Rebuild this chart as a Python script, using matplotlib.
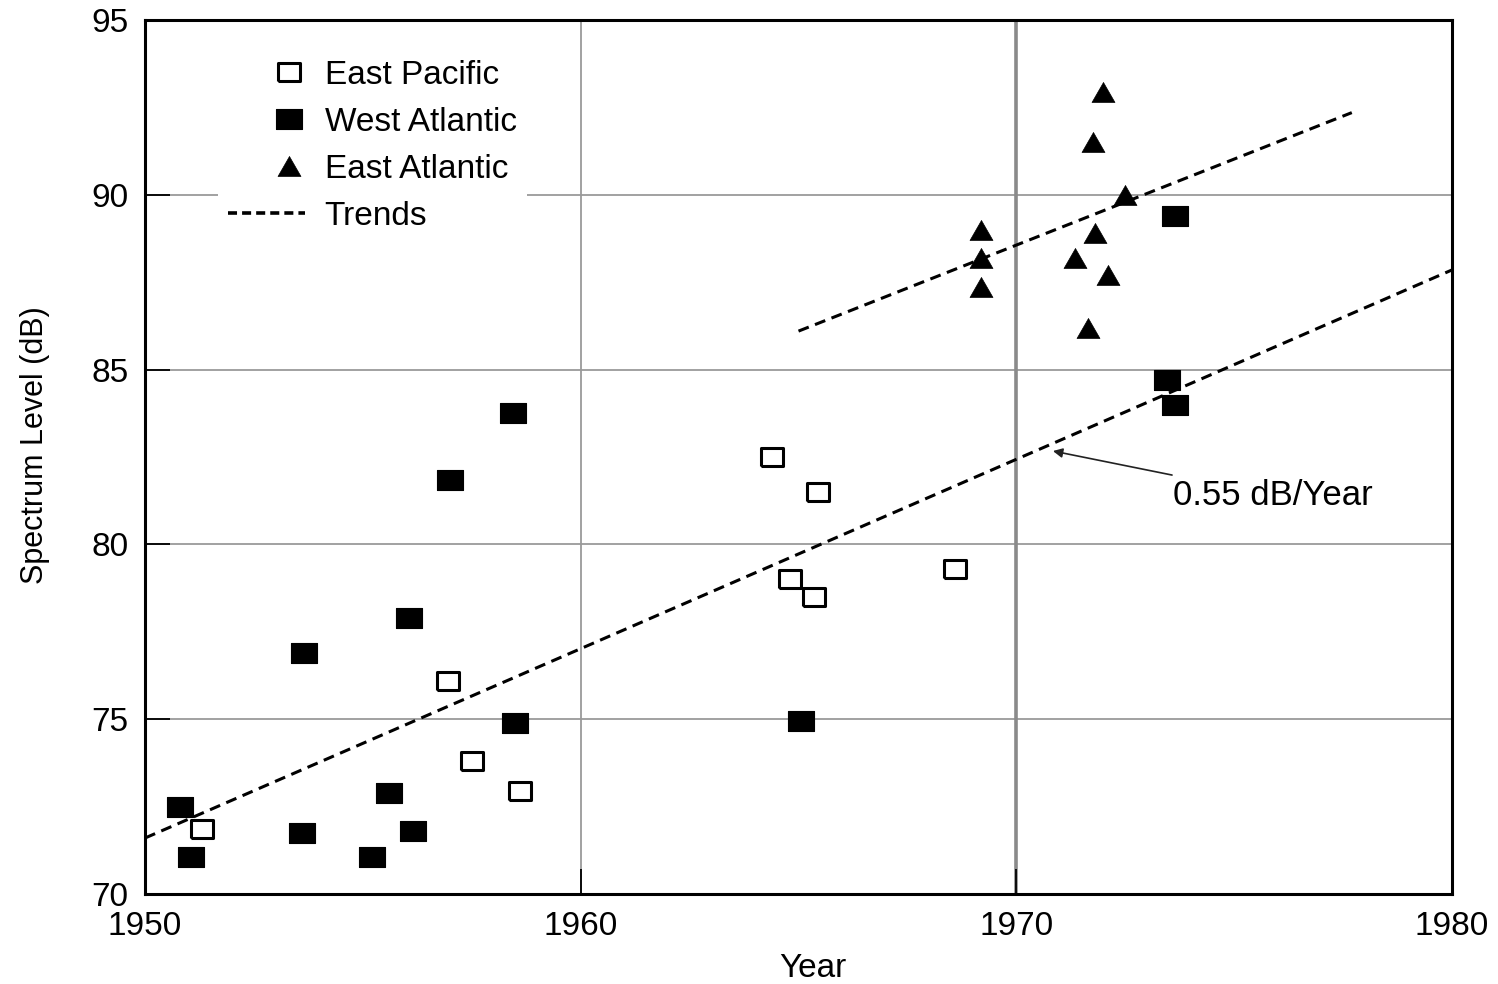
import matplotlib
matplotlib.use('Agg')
import matplotlib.pyplot as plt
from matplotlib.lines import Line2D
from matplotlib.legend_handler import HandlerLine2D

plt.rcParams['font.family'] = ['Liberation Sans', 'DejaVu Sans']

# East Pacific (open squares)
ep_year = [1951.3, 1956.95, 1957.5, 1958.6, 1964.4, 1965.45, 1964.8, 1965.35, 1968.6]
ep_db = [71.85, 76.1, 73.8, 72.95, 82.5, 81.5, 79.0, 78.5, 79.3]

# West Atlantic (filled squares)
wa_year = [1950.8, 1951.05, 1953.65, 1953.6, 1955.2, 1955.6, 1956.05, 1956.15,
           1957.0, 1958.45, 1958.5, 1965.05, 1973.65, 1973.45, 1973.65]
wa_db = [72.5, 71.05, 76.9, 71.75, 71.05, 72.9, 77.9, 71.8,
         81.85, 83.75, 74.9, 74.95, 89.4, 84.7, 84.0]

# East Atlantic (triangles)
ea_year = [1972.0, 1971.75, 1972.5, 1969.2, 1969.2, 1969.2, 1971.8, 1971.35, 1972.1, 1971.65]
ea_db = [92.95, 91.5, 90.0, 89.0, 88.2, 87.35, 88.9, 88.2, 87.7, 86.2]

# trend lines
trend1_year = [1950, 1980]
trend1_db = [71.6, 87.85]
trend2_year = [1965, 1977.7]
trend2_db = [86.1, 92.35]

rect = [(-0.6, -0.49), (0.6, -0.49), (0.6, 0.49), (-0.6, 0.49), (-0.6, -0.49)]
tri = [(0, 1), (-1.15, -1), (1.15, -1), (0, 1)]


class MarkerRight(HandlerLine2D):
    # marker sits at the middle of xdata when numpoints=1, so shift the span right
    def get_xdata(self, legend, xdescent, ydescent, width, height, fontsize):
        return [-xdescent + 0.6 * width, -xdescent + width], [-xdescent + 0.8 * width]


fig = plt.figure(figsize=(14.98, 9.84), dpi=100)
ax = fig.add_axes([0.0968, 0.0915, 0.8725, 0.8882])

# grid
for v in [75, 80, 85, 90]:
    ax.axhline(v, color='#9a9a9a', lw=1.3, zorder=1)
ax.axvline(1960, color='#9a9a9a', lw=1.3, zorder=1)
ax.axvline(1970, color='#8a8a8a', lw=2.6, zorder=1)

dash = dict(color='black', lw=2.2, dashes=(3.6, 2.2), zorder=3)
ax.plot(trend1_year, trend1_db, **dash)
ax.plot(trend2_year, trend2_db, **dash)

ax.plot(ep_year, ep_db, ls='none', marker=rect, ms=16, mfc='white', mec='black', mew=2.2, zorder=4)
ax.plot(wa_year, wa_db, ls='none', marker=rect, ms=18.5, mfc='black', mec='black', mew=0.8, zorder=4)
ax.plot(ea_year, ea_db, ls='none', marker=tri, ms=16.5, mfc='black', mec='black', mew=0.5, zorder=4)

ax.annotate('0.55 dB/Year', xy=(1970.84, 82.67), xytext=(1973.6, 81.4),
            fontsize=25, va='center', ha='left',
            arrowprops=dict(arrowstyle='-|>', color='#222222', lw=1.2,
                            mutation_scale=14, shrinkA=4, shrinkB=0))

ax.set_xlim(1950, 1980)
ax.set_ylim(70, 95)
ax.set_xticks([1950, 1960, 1970, 1980])
ax.set_yticks([70, 75, 80, 85, 90, 95])
ax.tick_params(direction='in', length=18, width=1.3, labelsize=24, pad=12)
ax.tick_params(axis='x', pad=12)
for s in ax.spines.values():
    s.set_linewidth(2.2)

ax.set_xlabel('Year', fontsize=24)
ax.xaxis.set_label_coords(0.511, -0.068)
ax.set_ylabel('Spectrum Level (dB)', fontsize=22)
ax.yaxis.set_label_coords(-0.073, 0.514)

ep_h = Line2D([], [], ls='none', marker=rect, ms=16, mfc='white', mec='black', mew=2.2)
wa_h = Line2D([], [], ls='none', marker=rect, ms=18.5, mfc='black', mec='black', mew=0.8)
ea_h = Line2D([], [], ls='none', marker=tri, ms=16.5, mfc='black', mec='black', mew=0.5)
tr_h = Line2D([], [], color='black', lw=2.6, dashes=(2.5, 1.4))
labels = ['East Pacific', 'West Atlantic', 'East Atlantic', 'Trends']
leg = ax.legend([ep_h, wa_h, ea_h, tr_h], labels, loc='upper left',
                bbox_to_anchor=(0.043, 0.985),
                fontsize=24, frameon=True, fancybox=False, framealpha=1,
                edgecolor='none', facecolor='white', handlelength=2.3,
                handletextpad=0.6, labelspacing=0.48, borderpad=0.3, numpoints=1,
                handler_map={ep_h: MarkerRight(), wa_h: MarkerRight(), ea_h: MarkerRight()})
leg.set_zorder(5)

fig.savefig('out.png', dpi=100)
